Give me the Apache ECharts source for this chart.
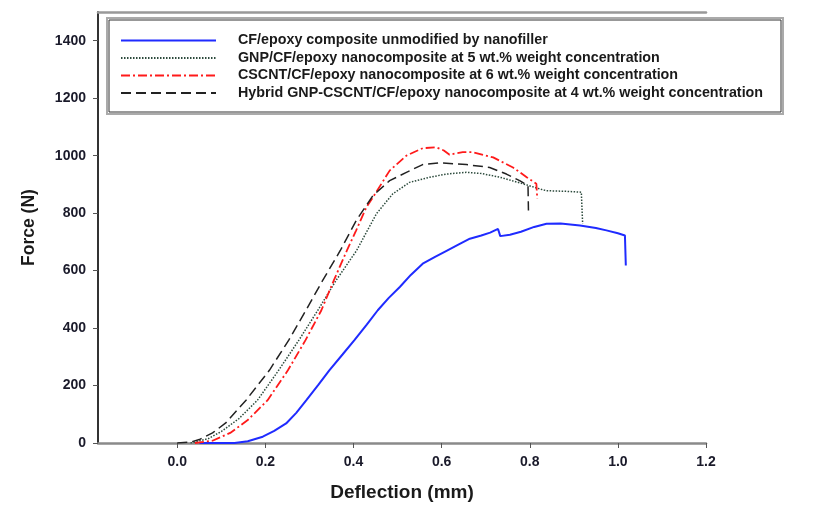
<!DOCTYPE html>
<html>
<head>
<meta charset="utf-8">
<script src="https://cdn.jsdelivr.net/npm/echarts@6/dist/echarts.min.js"></script>
<style>html,body{margin:0;padding:0;background:#fff;}#c{width:815px;height:507px;}</style>
</head>
<body>
<div id="c"></div>
<script>
// ---- data ----
const seriesNames = [
  'CF/epoxy composite unmodified by nanofiller',
  'GNP/CF/epoxy nanocomposite at 5 wt.% weight concentration',
  'CSCNT/CF/epoxy nanocomposite at 6 wt.% weight concentration',
  'Hybrid GNP-CSCNT/CF/epoxy nanocomposite at 4 wt.% weight concentration'
];
const xTicks = [0.0, 0.2, 0.4, 0.6, 0.8, 1.0, 1.2];
const yTicks = [0, 200, 400, 600, 800, 1000, 1200, 1400];

const cfX = [0.05,0.13,0.16,0.194,0.22,0.247,0.27,0.293,0.32,0.345,0.375,0.402,0.43,0.455,0.48,0.505,0.53,0.557,0.585,0.61,0.64,0.664,0.69,0.71,0.728,0.733,0.755,0.78,0.81,0.838,0.87,0.914,0.95,0.974,1.0,1.016,1.018];
const cfY = [0,0,6,22,42,68,105,149,202,253,308,358,412,462,505,543,585,624,648,668,692,711,722,732,745,720,725,735,752,763,764,757,748,740,730,722,618];

const gnpX = [0.03,0.07,0.10,0.14,0.182,0.230,0.276,0.319,0.36,0.407,0.452,0.489,0.527,0.573,0.611,0.656,0.69,0.732,0.785,0.823,0.838,0.88,0.917,0.92];
const gnpY = [0,15,40,85,149,253,358,462,565,670,798,867,907,925,936,942,938,925,902,884,878,876,873,763];

const cscntX = [0.04,0.08,0.12,0.16,0.205,0.251,0.291,0.327,0.355,0.385,0.406,0.429,0.444,0.482,0.52,0.557,0.588,0.605,0.618,0.633,0.648,0.671,0.717,0.762,0.793,0.815,0.817];
const cscntY = [0,8,35,80,149,253,358,462,565,670,740,820,855,948,1000,1026,1029,1018,1003,1008,1012,1012,994,959,925,902,850];

const hybX = [0.0,0.03,0.05,0.08,0.11,0.156,0.209,0.253,0.292,0.33,0.37,0.406,0.444,0.482,0.52,0.557,0.595,0.656,0.709,0.747,0.777,0.796,0.797];
const hybY = [0,3,12,35,70,149,253,358,462,566,670,774,861,913,942,969,975,969,959,936,913,896,809];

const pairs = (xs, ys) => xs.map((x, i) => [x, ys[i]]);

const FONT = "'Liberation Sans', Arial, sans-serif";
const chart = echarts.init(document.getElementById('c'), null, {renderer: 'canvas'});
chart.setOption({
  animation: false,
  backgroundColor: '#fff',
  grid: {left: 98, right: 109, top: 12, bottom: 64, containLabel: false},
  graphic: [
    {type: 'rect', shape: {x: 107, y: 18, width: 676, height: 96}, style: {fill: '#fff', stroke: '#aaa', lineWidth: 2}, z: 50},
    {type: 'rect', shape: {x: 109, y: 20, width: 672, height: 92}, style: {fill: 'none', stroke: '#333', lineWidth: 1}, z: 51}
  ],
  legend: {
    orient: 'vertical', left: 115, top: 27, z: 60,
    itemWidth: 95, itemHeight: 12, itemGap: 0.5,
    itemStyle: {opacity: 0},
    textStyle: {fontFamily: FONT, fontWeight: 'bold', fontSize: 14.3, lineHeight: 17, color: '#1a1a1a', padding: [0, 0, 0, 17]},
    data: seriesNames
  },
  xAxis: [{
    type: 'value', min: -0.18, max: 1.2,
    name: 'Deflection (mm)', nameLocation: 'middle', nameGap: 40,
    nameTextStyle: {fontFamily: FONT, fontWeight: 'bold', fontSize: 19, color: '#1a1a1a'},
    axisLine: {show: true, onZero: false, lineStyle: {color: '#8a8a8a', width: 2.5}},
    axisTick: {show: true, length: 5, customValues: xTicks, lineStyle: {color: '#555', width: 1}},
    axisLabel: {customValues: xTicks, margin: 12, fontFamily: FONT, fontWeight: 'bold', fontSize: 14, color: '#1a1a2a',
      formatter: v => v.toFixed(1)},
    splitLine: {show: false}
  }, {
    type: 'value', position: 'top', min: -0.18, max: 1.2,
    axisLine: {show: true, onZero: false, lineStyle: {color: '#999', width: 2.5}},
    axisTick: {show: false}, axisLabel: {show: false}, splitLine: {show: false}
  }],
  yAxis: {
    type: 'value', min: 0, max: 1500,
    name: 'Force (N)', nameLocation: 'middle', nameGap: 60,
    nameTextStyle: {fontFamily: FONT, fontWeight: 'bold', fontSize: 17.5, color: '#1a1a1a'},
    axisLine: {show: true, onZero: false, lineStyle: {color: '#333', width: 2}},
    axisTick: {show: true, length: 5, customValues: yTicks, lineStyle: {color: '#555', width: 1}},
    axisLabel: {customValues: yTicks, margin: 12, fontFamily: FONT, fontWeight: 'bold', fontSize: 14, color: '#1a1a2a',
      formatter: v => String(v)},
    splitLine: {show: false}
  },
  series: [
    {name: seriesNames[0], type: 'line', symbol: 'none', data: pairs(cfX, cfY),
     lineStyle: {color: '#1f2bff', width: 2, type: 'solid'}, itemStyle: {color: '#1f2bff'}},
    {name: seriesNames[1], type: 'line', symbol: 'none', data: pairs(gnpX, gnpY),
     lineStyle: {color: '#2c4a3c', width: 1.5, type: [1.5, 1.5]}, itemStyle: {color: '#2c4a3c'}},
    {name: seriesNames[2], type: 'line', symbol: 'none', data: pairs(cscntX, cscntY),
     lineStyle: {color: '#ff1a1a', width: 1.8, type: [9, 3, 2, 3]}, itemStyle: {color: '#ff1a1a'}},
    {name: seriesNames[3], type: 'line', symbol: 'none', data: pairs(hybX, hybY),
     lineStyle: {color: '#222', width: 1.5, type: [10, 5]}, itemStyle: {color: '#222'}}
  ]
});
</script>
</body>
</html>
